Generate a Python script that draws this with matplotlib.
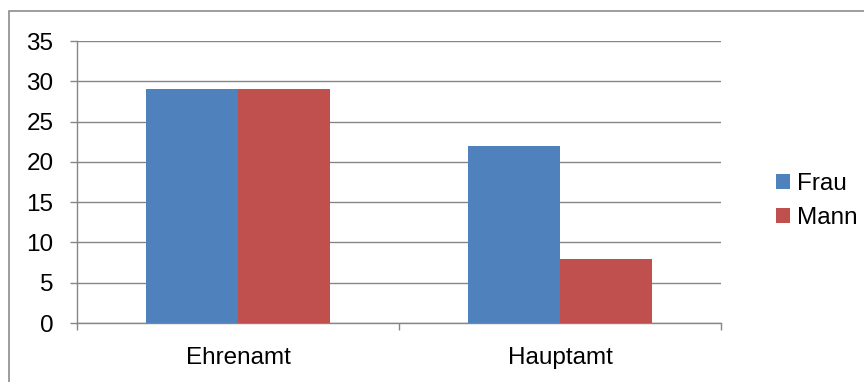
import matplotlib
matplotlib.use('Agg')
import matplotlib.pyplot as plt
from matplotlib.patches import Rectangle
import numpy as np

categories = ['Ehrenamt', 'Hauptamt']
series_names = ['Frau', 'Mann']
frau = [29, 22]
mann = [29, 8]
y_ticks = [0, 5, 10, 15, 20, 25, 30, 35]

BLUE = '#4F81BD'
RED = '#C0504D'
GRID = '#868686'

plt.rcParams['font.family'] = ['Liberation Sans', 'DejaVu Sans']
plt.rcParams['font.size'] = 17.5

fig = plt.figure(figsize=(8.64, 3.82), dpi=100)
fig.patch.set_facecolor('white')

# chart frame (runs past the right and bottom edge of the canvas)
fig.patches.append(Rectangle((8.5 / 864, -0.2), 1.2, 0.2 + 1 - 11 / 382,
                             transform=fig.transFigure, fill=False,
                             edgecolor='#8C8C8C', linewidth=1.2))

ax = fig.add_axes([77 / 864, 1 - 323 / 382, 644 / 864, 282 / 382])

x = np.arange(len(categories))
w = 0.285
ax.bar(x - w / 2, frau, w, color=BLUE, label=series_names[0], zorder=3)
ax.bar(x + w / 2, mann, w, color=RED, label=series_names[1], zorder=3)

ax.set_xlim(-0.5, len(categories) - 0.5)
ax.set_ylim(0, 35)
ax.set_yticks(y_ticks)
ax.yaxis.grid(True, color=GRID, linewidth=1.0, zorder=0)
ax.tick_params(axis='y', direction='out', length=5, width=1.0, color=GRID, pad=12)

ax.set_xticks(x)
ax.set_xticklabels(categories)
ax.set_xticks(np.arange(len(categories) + 1) - 0.5, minor=True)
ax.tick_params(axis='x', which='major', length=0, pad=17)
ax.tick_params(axis='x', which='minor', direction='out', length=5, width=1.0, color=GRID)

for side in ('top', 'right'):
    ax.spines[side].set_visible(False)
for side in ('left', 'bottom'):
    ax.spines[side].set_color(GRID)
    ax.spines[side].set_linewidth(1.0)

ax.legend(loc='center left', bbox_to_anchor=(776 / 864, 1 - 201 / 382),
          bbox_transform=fig.transFigure, frameon=False, borderpad=0,
          borderaxespad=0, handlelength=0.58, handleheight=0.58,
          handletextpad=0.3, labelspacing=0.48)

fig.savefig('out.png', dpi=100)
